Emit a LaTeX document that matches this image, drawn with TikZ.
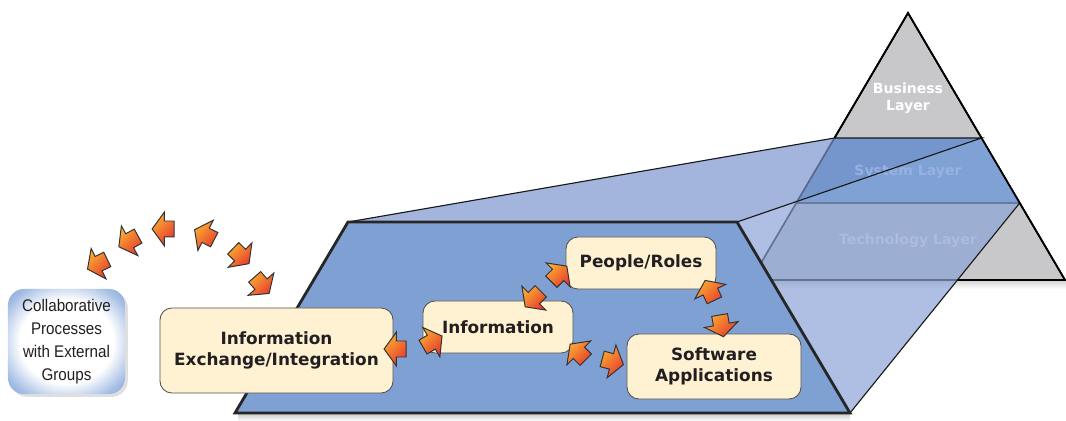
\documentclass[tikz,border=0pt]{standalone}
\usepackage{fontspec}
\setmainfont{DejaVu Sans}
\newfontfamily\narrowfont[FakeStretch=0.9]{Liberation Sans}
\usetikzlibrary{positioning, shapes.arrows, shadows}

\definecolor{panelblue}{RGB}{127,160,210}
\definecolor{prismtop}{RGB}{124,149,205}
\definecolor{prismside}{RGB}{139,164,215}
\definecolor{bandblue}{RGB}{102,154,202}
\definecolor{layergray}{RGB}{200,200,202}
\definecolor{boxcream}{RGB}{255,242,211}
\definecolor{boxline}{RGB}{80,80,80}
\definecolor{textdark}{RGB}{35,31,32}
\definecolor{floworange}{RGB}{250,170,50}
\definecolor{flowred}{RGB}{230,60,45}
\definecolor{groupblue}{RGB}{135,168,220}
\definecolor{systemtext}{RGB}{150,178,226}
\definecolor{techtext}{RGB}{172,188,225}

\pgfdeclareradialshading{groupglow}{\pgfpoint{0bp}{0bp}}{%
    color(0bp)=(white); color(20bp)=(white); color(30bp)=(groupblue!75); color(35bp)=(groupblue); color(50bp)=(groupblue)}

\begin{document}
\begin{tikzpicture}[
    x=0.025cm, y=0.025cm,
    box/.style={
        rectangle,
        draw=boxline,
        line width=0.6pt,
        fill=boxcream,
        rounded corners=0.3cm,
        inner sep=0pt,
        align=center,
        text=textdark,
        font=\bfseries\fontsize{12}{14.5}\selectfont
    },
    group/.style={
        rectangle,
        rounded corners=0.4cm,
        shading=groupglow,
        drop shadow={opacity=0.25, shadow xshift=2pt, shadow yshift=-2pt},
        inner sep=0pt,
        align=center,
        text=textdark,
        font=\narrowfont\fontsize{12}{16.5}\selectfont
    },
    flow/.style={
        single arrow,
        draw=black!80,
        line width=0.7pt,
        minimum height=0.55cm,
        inner xsep=0pt,
        inner ysep=0.1875cm,
        single arrow head extend=0.225cm,
        single arrow tip angle=108,
        top color=floworange,
        bottom color=flowred,
        shading angle=45,
        rotate=#1
    },
    layer/.style={align=center, font=\bfseries\fontsize{10}{12}\selectfont},
    edge/.style={line width=0.8pt, draw=black!90}
]
\useasboundingbox (0,0) rectangle (1066,421);

% Shadows
\shade[top color=black!22, bottom color=white] (238,8) rectangle (850,0);
\shade[top color=black!18, bottom color=white] (760,141) rectangle (1066,132);

% Layer pyramid
\coordinate (apex) at (908,408);
\coordinate (baseL) at (751,141);
\coordinate (baseR) at (1065,141);
\fill[layergray] (apex) -- (baseL) -- (baseR) -- cycle;
\fill[bandblue] (834.5,283) -- (981.5,283) -- (1019.7,218) -- (796.3,218) -- cycle;
\draw[edge] (796.3,218) -- (1019.7,218);
\draw[line width=1.2pt] (apex) -- (baseL) -- (baseR) -- cycle;
\node[layer, text=white] (business) at (908,323) {Business\\Layer};

% Projection of the system layer
\fill[prismtop, fill opacity=0.7] (348,199) -- (834.5,283) -- (981.5,283) -- (737,199) -- cycle;
\fill[prismside, fill opacity=0.7] (737,199) -- (981.5,283) -- (1019.7,218) -- (850,8) -- cycle;
\node[layer, text=systemtext] (system) at (908,249) {System Layer};
\node[layer, text=techtext] (technology) at (908,180) {Technology Layer};
\draw[edge] (348,199) -- (834.5,283) -- (981.5,283) -- (737,199);
\draw[edge] (1019.7,218) -- (850,8);
\draw[line width=1.2pt] (834.5,283) -- (apex) -- (baseR) -- (957.5,141);

% Front panel
\draw[fill=panelblue, draw=black!85, line width=2pt] (348,199) -- (737,199) -- (850,8) -- (235,8) -- cycle;

% Boxes
\node[group, minimum width=2.925cm, minimum height=2.625cm] (external) at (66.5,79.5)
    {Collaborative\\Processes\\with External\\Groups};
\node[box, minimum width=5.825cm, minimum height=2.125cm] (exchange) at (276.5,70.5)
    {Information\\Exchange/Integration};
\node[box, minimum width=3.75cm, minimum height=1.3cm] (info) at (498,94) {Information};
\node[box, minimum width=3.75cm, minimum height=1.3cm] (people) at (641,158) {People/Roles};
\node[box, minimum width=4.35cm, minimum height=1.625cm] (software) at (714,54.5)
    {Software\\Applications};

% Arc of arrows to the external groups
\node[flow=206] (arcA) at (100,158) {};
\node[flow=209] (arcB) at (131,181) {};
\node[flow=180] (arcC) at (166,192) {};
\node[flow=153] (arcD) at (207,185) {};
\node[flow=-44] (arcE) at (239,167) {};
\node[flow=-49] (arcF) at (260,138) {};

% Arrows between the boxes
\node[flow=180] (toexchange) at (398,72) {};
\node[flow=30] (frominfoL) at (430,78) {};
\node[flow=225] (frompeople) at (535,124) {};
\node[flow=45] (topeople) at (557,145) {};
\node[flow=115] (tosoftwareU) at (711,128) {};
\node[flow=-80] (tosoftware) at (721,98) {};
\node[flow=135] (frominfoR) at (580,67) {};
\node[flow=-15] (tosoftwareL) at (610,60) {};

\end{tikzpicture}
\end{document}
